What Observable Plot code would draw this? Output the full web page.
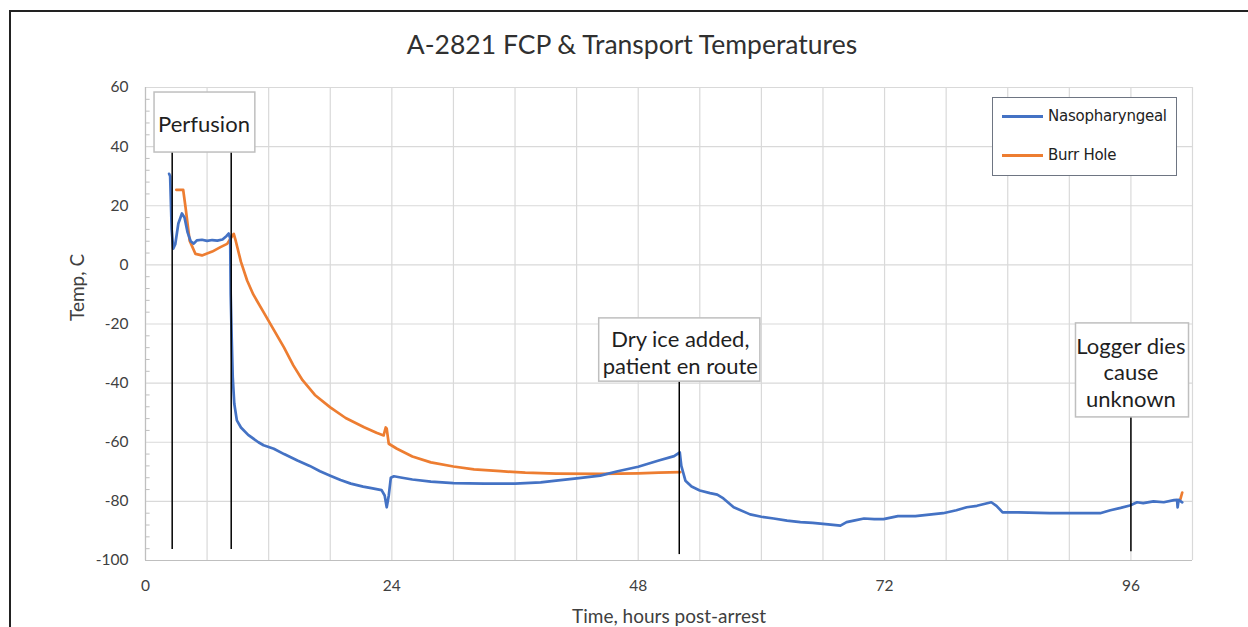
<!DOCTYPE html>
<html>
<head>
<meta charset="utf-8">
<script src="https://cdn.jsdelivr.net/npm/d3@7"></script>
<script src="https://cdn.jsdelivr.net/npm/@observablehq/plot@0.6"></script>
<style>
  body { margin: 0; background: #fff; overflow: hidden; }
  #wrap { position: relative; width: 1248px; height: 627px; overflow: hidden; background: #fff; }
  #border { position: absolute; left: 9px; top: 10px; width: 1400px; height: 800px; border: 2px solid #222; box-sizing: border-box; }
  #chart { position: absolute; left: 0; top: 0; }
  #legend { position: absolute; left: 992px; top: 97px; width: 185px; height: 79px; border: 1.5px solid #6e7582; background: #fff; box-sizing: border-box; font-family: "DejaVu Sans", sans-serif; font-size: 15px; color: #222; letter-spacing: -0.25px; }
  .lg { position: absolute; left: 9px; height: 3px; width: 41px; }
  .lt { position: absolute; left: 55px; line-height: 18px; }
</style>
</head>
<body>
<div id="wrap">
  <div id="border"></div>
  <div id="chart"></div>
  <div id="legend"></div>
</div>
<script>
// ---- Data ----
const title = "A-2821 FCP & Transport Temperatures";
const xLabel = "Time, hours post-arrest";
const yLabel = "Temp, C";
const seriesNames = ["Nasopharyngeal", "Burr Hole"];
const seriesColors = ["#4472c4", "#ed7d31"];

const xTicks = [0, 24, 48, 72, 96];
const xGrid = [0, 6, 12, 18, 24, 30, 36, 42, 48, 54, 60, 66, 72, 78, 84, 90, 96, 102];
const yTicks = [-100, -80, -60, -40, -20, 0, 20, 40, 60];
const yMinor = d3.range(-100, 61, 4).filter(v => v % 20 !== 0);

// Nasopharyngeal (hours, temp C)
const nasoHours = [2.3, 2.4, 2.55, 2.7, 2.9, 3.2, 3.55, 3.8, 4.1, 4.4, 4.7, 5.0, 5.5, 6.0, 6.5, 7.0, 7.5, 7.9, 8.1, 8.25,
  8.3, 8.4, 8.5, 8.65, 8.9, 9.3, 10, 11, 11.5, 12.5, 13.5, 14.8, 16, 17, 18, 19, 20, 21.2, 22, 23.0,
  23.3, 23.5, 23.7, 23.9, 24.2, 25, 26, 27.8, 30, 33, 36, 38.5, 40, 42, 44.3, 46, 48, 50, 51.5, 52.05,
  52.2, 52.6, 53.2, 54, 55, 55.7, 56.3, 57.3, 58.9, 60, 61.2, 62.5, 63.8, 65, 66.5, 67.7, 68.3, 69, 70, 71,
  71.9, 73.3, 75, 77.7, 79, 80, 81, 82.4, 82.9, 83.5, 85, 88.1, 90, 93, 94, 95, 95.9, 96.6, 97.2, 98.2,
  99.2, 100.2, 100.5, 100.55, 100.65, 101];
const nasoTemps = [30.8, 30, 12, 5.5, 7, 14, 17.4, 16, 11, 8, 7.2, 8.3, 8.5, 8.1, 8.4, 8.2, 8.6, 9.8, 10.6, 9,
  -10, -25, -38, -47, -52.6, -55, -57.5, -60, -61, -62.2, -64, -66.2, -68, -69.8, -71.3, -72.8, -74, -75, -75.5, -76.2,
  -78, -82, -78, -72, -71.5, -72, -72.6, -73.3, -73.8, -74, -74, -73.6, -73, -72.2, -71.3, -69.8, -68.3, -66.2, -64.7, -63.4,
  -68, -73, -75, -76.3, -77.2, -77.7, -79, -82, -84.4, -85.2, -85.8, -86.5, -87, -87.3, -87.8, -88.2, -87, -86.5, -85.8, -86,
  -86, -85, -85, -84, -83, -82, -81.5, -80.3, -81.5, -83.7, -83.7, -84, -84, -84, -83, -82.2, -81.4, -80.3, -80.6, -80,
  -80.3, -79.6, -79.5, -82, -79.5, -80.3];

// Burr Hole (hours, temp C); NaN marks the logging gap
const burrHours = [3.0, 3.67, 3.9, 4.3, 4.87, 5.5, 6.5, 7.3, 7.95, 8.4, 8.6, 8.8, 9.3, 9.9, 10.5, 11.5, 12.5, 13.5, 14.4, 15.3,
  16.5, 18, 19.5, 21.3, 22.5, 23.2, 23.4, 23.5, 23.6, 23.7, 24.5, 26, 27.8, 30, 32, 34.6, 37, 40, 44.3, 48,
  50, 52.1, 76, 100.8, 101];
const burrTemps = [25.4, 25.4, 19.5, 8.2, 3.7, 3.2, 4.5, 6, 7.1, 9.5, 10.5, 8, 1, -5.3, -10, -16, -22, -28, -34, -39,
  -44, -48.2, -51.8, -54.9, -56.8, -57.7, -55, -55.4, -58, -60.5, -62.2, -64.8, -66.8, -68.2, -69.2, -69.8, -70.3, -70.6, -70.7, -70.5,
  -70.3, -70.1, NaN, -79.5, -77];

// Event annotations
const noteTexts = ["Perfusion", "Dry ice added,\npatient en route", "Logger dies\ncause\nunknown"];
const noteHours = [5.7, 52.1, 96.0];
const noteTemps = [47.7, -29.5, -36.2];
const noteBoxX1 = [0.88, 44.2, 90.65];
const noteBoxX2 = [10.7, 59.9, 101.66];
const noteBoxY1 = [38.0, -39.5, -51.6];
const noteBoxY2 = [58.3, -18.1, -19.8];
const eventHours = [2.6, 8.35, 52.0, 96.0];
const eventTop = [38.0, 38.0, -39.5, -51.6];
const eventBottom = [-96.3, -96.3, -98, -97];

// ---- Build tables ----
const naso = nasoHours.map((h, i) => ({h, t: nasoTemps[i]}));
const burr = burrHours.map((h, i) => ({h, t: burrTemps[i]}));
const notes = noteTexts.map((text, i) => ({text, h: noteHours[i], t: noteTemps[i],
  x1: noteBoxX1[i], x2: noteBoxX2[i], y1: noteBoxY1[i], y2: noteBoxY2[i]}));
const events = eventHours.map((h, i) => ({h, top: eventTop[i], bottom: eventBottom[i]}));

const chart = Plot.plot({
  width: 1248,
  height: 627,
  marginLeft: 145,
  marginRight: 56,
  marginTop: 87,
  marginBottom: 67,
  x: {domain: [0, 102]},
  y: {domain: [-100, 60]},
  style: {fontFamily: "Lato, sans-serif", fontSize: "15px", color: "#595959", background: "transparent"},
  marks: [
    Plot.ruleX(xGrid, {stroke: "#d9d9d9", strokeWidth: 1.2}),
    Plot.ruleY(yTicks, {stroke: "#d9d9d9", strokeWidth: 1.2}),
    Plot.ruleY(yMinor, {x1: 0, x2: 0.45, stroke: "#bfbfbf"}),
    Plot.ruleX([0], {stroke: "#bfbfbf", strokeWidth: 1.2}),
    Plot.ruleY([-100], {stroke: "#bfbfbf", strokeWidth: 1.2}),
    Plot.axisX({ticks: xTicks, tickSize: 0, tickPadding: 19, label: null, fontSize: 15.5, fill: "#404040", tickFormat: d => String(d)}),
    Plot.axisY({ticks: yTicks, tickSize: 0, tickPadding: 17, label: null, fontSize: 15.5, fill: "#404040", tickFormat: d => String(d)}),
    Plot.line(burr, {x: "h", y: "t", stroke: seriesColors[1], strokeWidth: 2.7}),
    Plot.line(naso, {x: "h", y: "t", stroke: seriesColors[0], strokeWidth: 2.7}),
    Plot.ruleX(events, {x: "h", y1: "top", y2: "bottom", stroke: "#000", strokeWidth: 1.5}),
    Plot.rect(notes, {x1: "x1", x2: "x2", y1: "y1", y2: "y2", fill: "#fff", stroke: "#bfbfbf", strokeWidth: 1.5}),
    Plot.text(notes, {x: "h", y: "t", text: "text", fontSize: 22, lineHeight: 1.2, fill: "#1f1f1f"}),
    Plot.text([title], {frameAnchor: "top", dx: -37, dy: -52, fontSize: 26.5, fill: "#303030"}),
    Plot.text([xLabel], {frameAnchor: "bottom", dy: 62, fontSize: 19, fill: "#404040"}),
    Plot.text([yLabel], {frameAnchor: "left", dx: -68, dy: -3, rotate: -90, fontSize: 19, fill: "#404040"})
  ]
});
document.getElementById("chart").appendChild(chart);

// Legend
const legend = document.getElementById("legend");
const legendTops = [18, 57];
seriesNames.forEach((name, i) => {
  const ln = document.createElement("div");
  ln.className = "lg";
  ln.style.top = (legendTops[i] - 1.5) + "px";
  ln.style.background = seriesColors[i];
  legend.appendChild(ln);
  const tx = document.createElement("div");
  tx.className = "lt";
  tx.style.top = (legendTops[i] - 9) + "px";
  tx.textContent = name;
  legend.appendChild(tx);
});
</script>
</body>
</html>
